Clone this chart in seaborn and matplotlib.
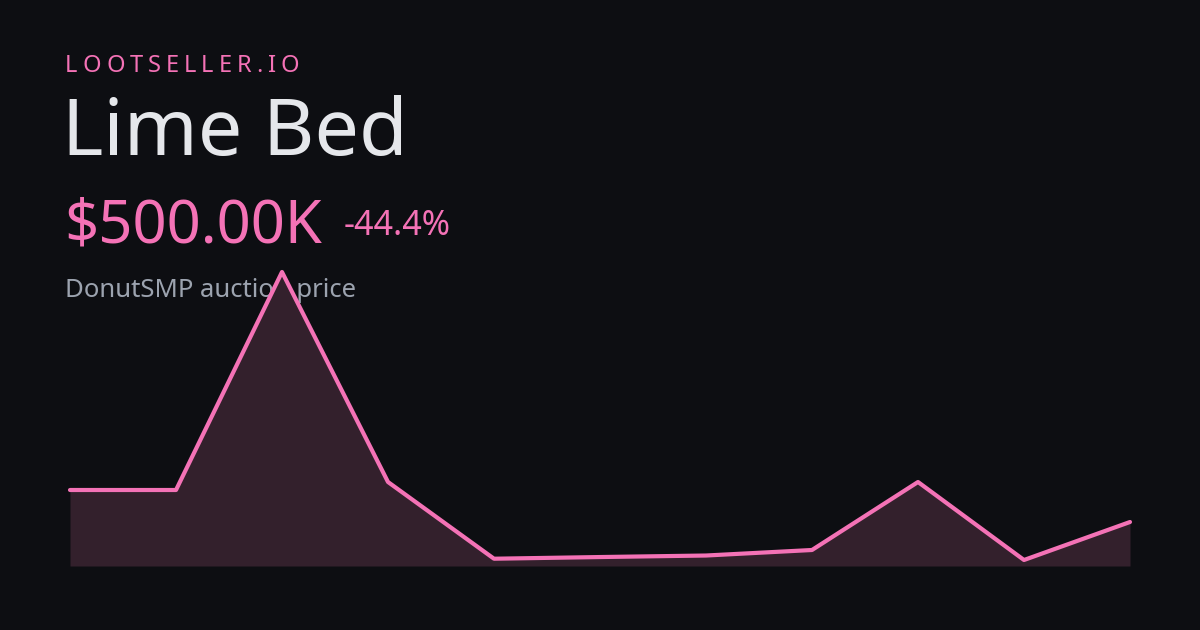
import numpy as np
import pandas as pd
import matplotlib
matplotlib.use("Agg")
import matplotlib.pyplot as plt
import seaborn as sns

# price history (thousands)
points = list(range(11))
price_k = [900, 900, 3625, 1000, 41, 62, 81, 150, 1000, 25, 500]

brand = "LOOTSELLER.IO"
item_name = "Lime Bed"
price_label = "$500.00K"
change_label = "-44.4%"
subtitle = "DonutSMP auction price"

BG = "#0d0e12"
PINK = "#f472b6"
FILL = "#33202c"
W, H = 1200, 630

sns.set_theme(style="white")
plt.rcParams['font.family'] = ['Noto Sans', 'DejaVu Sans']

fig = plt.figure(figsize=(W / 100, H / 100), dpi=100)
fig.patch.set_facecolor(BG)

# chart area: x 70..1130, y 272..566 px
ax = fig.add_axes([70 / W, (H - 566) / H, 1060 / W, (566 - 272) / H])
ax.set_zorder(10)
ax.patch.set_alpha(0)

df = pd.DataFrame({"point": points, "price": price_k})
ymin = -50
ax.fill_between(df["point"], df["price"], ymin, color=FILL, lw=0)
sns.lineplot(data=df, x="point", y="price", ax=ax, color=PINK, linewidth=3,
             clip_on=False)
ax.set_xlim(0, len(points) - 1)
ax.set_ylim(ymin, max(price_k))
ax.set_axis_off()

renderer = fig.canvas.get_renderer()


def px_text(x, y, s, **kw):
    return fig.text(x / W, 1 - y / H, s, va="baseline", ha="left", **kw)


def spaced_text(x, y, s, spacing, **kw):
    # draw one char at a time so letter spacing can be set
    for ch in s:
        t = px_text(x, y, ch, **kw)
        w = t.get_window_extent(renderer).width
        x += w + spacing


spaced_text(65, 72, brand, 5.0, color=PINK, fontsize=17)
px_text(62, 155, item_name, color="#e5e7eb", fontsize=57)
px_text(64, 242, price_label, color=PINK, fontsize=43)
px_text(344, 235, change_label, color=PINK, fontsize=24.5)
px_text(65, 297, subtitle, color="#9ca3af", fontsize=18.5)

fig.savefig("out.png", dpi=100, facecolor=BG)
